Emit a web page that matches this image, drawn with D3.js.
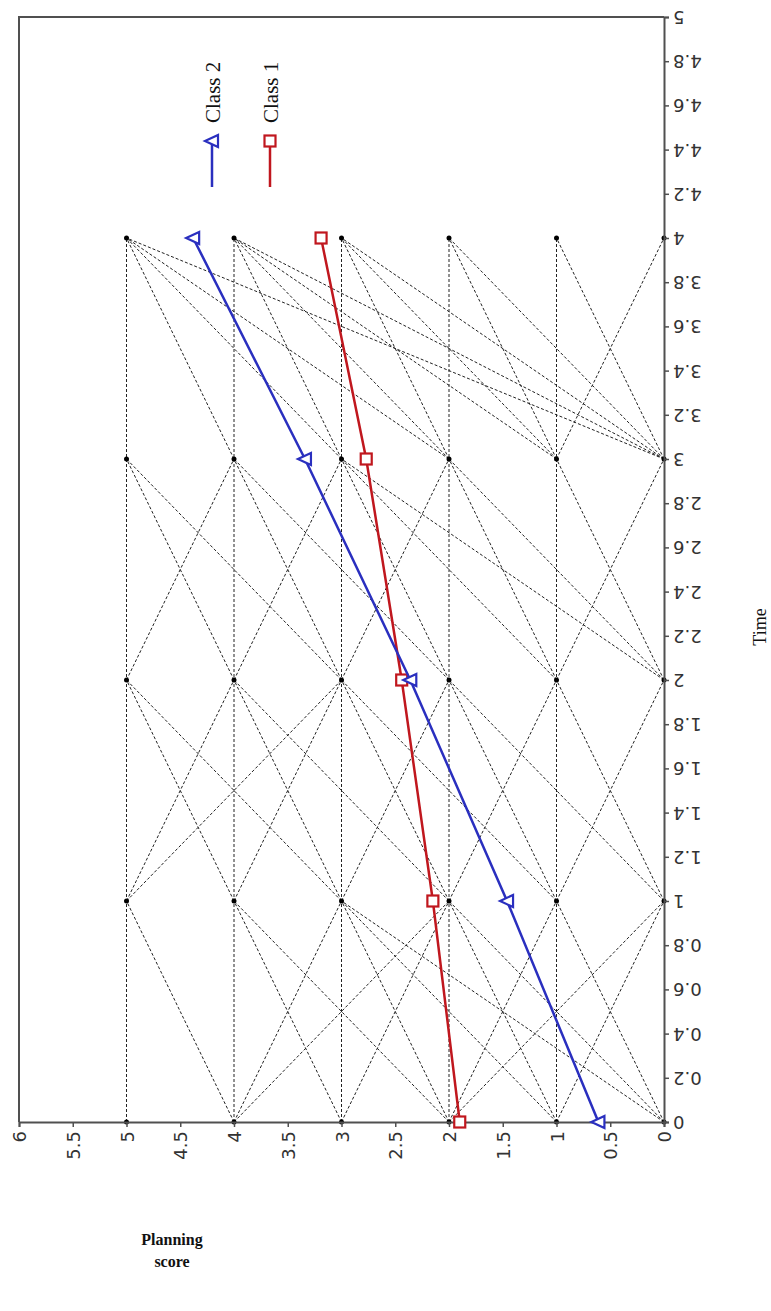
<!DOCTYPE html>
<html>
<head>
<meta charset="utf-8">
<script src="https://cdn.jsdelivr.net/npm/d3@7"></script>
<style>
  body { margin: 0; background: #fff; }
</style>
</head>
<body>
<svg id="chart" width="771" height="1311"></svg>
<script>
// --- dati ---
const times = [0, 1, 2, 3, 4];
const class1 = [1.90, 2.15, 2.44, 2.77, 3.19];
const class2 = [0.61, 1.46, 2.36, 3.34, 4.38];
const obsScores = [0, 1, 2, 3, 4, 5];
// traiettorie osservate: [tempo di partenza, punteggio a t, punteggio a t+1]
const obsLinks = [
  [0,0,1],[0,0,2],[0,0,3],[0,1,0],[0,1,2],[0,1,3],[0,2,0],[0,2,1],[0,2,3],[0,2,4],[0,3,2],[0,3,4],[0,4,3],[0,4,5],[0,4,2],
  [1,0,1],[1,0,2],[1,1,0],[1,1,2],[1,1,3],[1,2,1],[1,2,3],[1,2,4],[1,3,2],[1,3,4],[1,3,5],[1,4,3],[1,4,5],[1,5,4],[1,5,3],
  [2,0,1],[2,0,2],[2,0,3],[2,1,0],[2,1,2],[2,1,3],[2,2,3],[2,2,4],[2,3,2],[2,3,4],[2,3,5],[2,4,3],[2,4,5],[2,5,4],
  [3,0,1],[3,0,2],[3,0,3],[3,0,4],[3,0,5],[3,1,0],[3,1,2],[3,1,3],[3,1,4],[3,2,3],[3,2,4],[3,2,5],[3,3,4],[3,3,5],[3,4,5]
];
const timeTicks = d3.range(0, 26).map(i => +(i * 0.2).toFixed(1));
const scoreTicks = d3.range(0, 13).map(i => i * 0.5);

const svg = d3.select("#chart");

// grafico ruotato: il tempo sale lungo il lato destro, il punteggio cresce verso sinistra
const x = d3.scaleLinear().domain([0, 6]).range([664, 19]);   // punteggio
const y = d3.scaleLinear().domain([0, 5]).range([1122, 17]);  // tempo

const AXIS = "#505050";
const TICK_FONT = "'DejaVu Sans', Verdana, sans-serif";
const SERIF = "'Liberation Serif', 'Times New Roman', serif";

// cornice
svg.append("path")
  .attr("d", `M${x(0)},${y(5)}H${x(6)}V${y(0)}`)
  .attr("fill", "none").attr("stroke", AXIS).attr("stroke-width", 2);

// linee tratteggiate individuali
const g = svg.append("g");
g.selectAll("line.obs-h")
  .data(obsScores.filter(s => s > 0))
  .enter().append("line")
  .attr("x1", d => x(d)).attr("x2", d => x(d))
  .attr("y1", y(0)).attr("y2", y(4))
  .attr("stroke", "#222").attr("stroke-width", 1).attr("stroke-dasharray", "3,2");

g.selectAll("line.obs-d")
  .data(obsLinks)
  .enter().append("line")
  .attr("x1", d => x(d[1])).attr("y1", d => y(d[0]))
  .attr("x2", d => x(d[2])).attr("y2", d => y(d[0] + 1))
  .attr("stroke", "#222").attr("stroke-width", 1).attr("stroke-dasharray", "3,2");

const dots = [];
times.forEach(t => obsScores.forEach(s => dots.push([t, s])));
g.selectAll("circle")
  .data(dots)
  .enter().append("circle")
  .attr("cx", d => x(d[1])).attr("cy", d => y(d[0]))
  .attr("r", 2.5).attr("fill", "#000");

// assi
const right = svg.append("g")
  .attr("transform", `translate(${x(0)},0)`)
  .call(d3.axisRight(y).tickValues(timeTicks).tickSize(5).tickFormat(d3.format("~g")));
right.select(".domain").attr("stroke", AXIS).attr("stroke-width", 2);
right.selectAll(".tick line").attr("stroke", AXIS).attr("stroke-width", 1.5);
right.selectAll(".tick text")
  .attr("x", 9).attr("dy", null)
  .attr("text-anchor", "end")
  .attr("dominant-baseline", "central")
  .attr("transform", "rotate(180,9,0)")
  .style("font-family", TICK_FONT)
  .style("font-size", "18px").style("fill", "#333");

const bottom = svg.append("g")
  .attr("transform", `translate(0,${y(0)})`)
  .call(d3.axisBottom(x).tickValues(scoreTicks).tickSize(5).tickFormat(d3.format("~g")));
bottom.select(".domain").attr("stroke", AXIS).attr("stroke-width", 2);
bottom.selectAll(".tick line").attr("stroke", AXIS).attr("stroke-width", 1.5);
bottom.selectAll(".tick text")
  .attr("y", 0).attr("dy", null)
  .attr("text-anchor", "end")
  .attr("dominant-baseline", "central")
  .attr("transform", "translate(0,9) rotate(-90)")
  .style("font-family", TICK_FONT)
  .style("font-size", "18px").style("fill", "#333");

// traiettorie di classe
const series = [
  { name: "Class 1", vals: class1, color: "#c0171e", marker: "square" },
  { name: "Class 2", vals: class2, color: "#2a2fbf", marker: "triangle" }
];
const line = d3.line().x(d => x(d.v)).y(d => y(d.t));

function drawMarker(sel, m, color) {
  if (m === "square") {
    sel.append("rect").attr("x", -5.5).attr("y", -5.5).attr("width", 11).attr("height", 11)
      .attr("fill", "#fff").attr("stroke", color).attr("stroke-width", 2.2);
  } else {
    sel.append("path").attr("d", "M-7,0L6,-6L6,6Z")
      .attr("fill", "#fff").attr("stroke", color).attr("stroke-width", 2.2);
  }
}

series.forEach(s => {
  const pts = s.vals.map((v, i) => ({ t: times[i], v }));
  svg.append("path").datum(pts)
    .attr("d", line).attr("fill", "none")
    .attr("stroke", s.color).attr("stroke-width", 2.5);
  pts.forEach(p => {
    const mg = svg.append("g").attr("transform", `translate(${x(p.v)},${y(p.t)})`);
    drawMarker(mg, s.marker, s.color);
  });
});

// legenda
const legendX = { "Class 2": 212, "Class 1": 270 };
series.forEach(s => {
  const lx = legendX[s.name];
  svg.append("line").attr("x1", lx).attr("x2", lx).attr("y1", 141).attr("y2", 187)
    .attr("stroke", s.color).attr("stroke-width", 2.5);
  drawMarker(svg.append("g").attr("transform", `translate(${lx},141)`), s.marker, s.color);
  svg.append("text")
    .attr("transform", `translate(${lx + 8},123) rotate(-90)`)
    .style("font-family", SERIF)
    .style("font-size", "21px").style("fill", "#111")
    .text(s.name);
});

// titoli assi
svg.append("text")
  .attr("transform", "translate(766,627) rotate(-90)")
  .attr("text-anchor", "middle")
  .style("font-family", SERIF)
  .style("font-size", "18px").style("fill", "#111")
  .text("Time");

const yt = svg.append("text")
  .attr("text-anchor", "middle")
  .style("font-family", SERIF)
  .style("font-size", "16px").style("font-weight", "bold").style("fill", "#111");
yt.append("tspan").attr("x", 172).attr("y", 1245).text("Planning");
yt.append("tspan").attr("x", 172).attr("y", 1267).text("score");
</script>
</body>
</html>
